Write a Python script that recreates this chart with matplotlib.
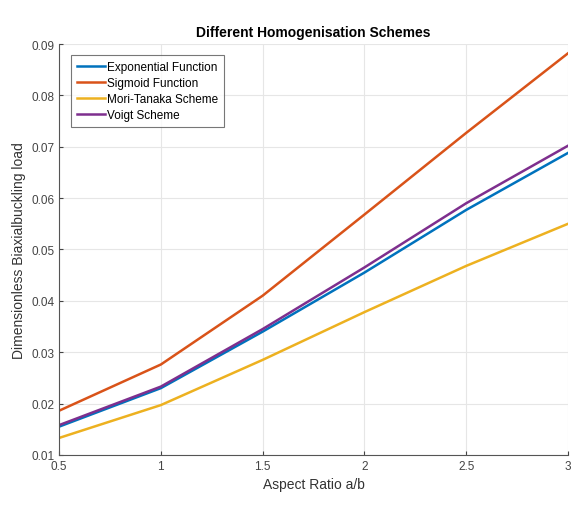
import matplotlib
matplotlib.use("Agg")
import matplotlib.pyplot as plt

plt.rcParams["font.family"] = ["Liberation Sans", "DejaVu Sans"]

aspect_ratio = [0.5, 1.0, 1.5, 2.0, 2.5, 3.0]
exponential = [0.0155, 0.0230, 0.0340, 0.0455, 0.0577, 0.0688]
sigmoid = [0.0186, 0.0276, 0.0410, 0.0568, 0.0727, 0.0882]
mori_tanaka = [0.0133, 0.0197, 0.0285, 0.0378, 0.0468, 0.0550]
voigt = [0.0158, 0.0233, 0.0345, 0.0465, 0.0590, 0.0702]

labels = ["Exponential Function", "Sigmoid Function", "Mori-Tanaka Scheme", "Voigt Scheme"]
colors = ["#0072BD", "#D95319", "#EDB120", "#7E2F8E"]

fig = plt.figure(figsize=(5.79, 5.06), dpi=100)
ax = fig.add_axes([0.102, 0.099, 0.879, 0.812])
for ys, lab, c in zip([exponential, sigmoid, mori_tanaka, voigt], labels, colors):
    ax.plot(aspect_ratio, ys, color=c, lw=1.8, label=lab)

ax.set_xlim(0.5, 3)
ax.set_ylim(0.01, 0.09)
ax.set_xticks([0.5, 1, 1.5, 2, 2.5, 3])
ax.set_xticklabels(["0.5", "1", "1.5", "2", "2.5", "3"])
ax.set_yticks([0.01, 0.02, 0.03, 0.04, 0.05, 0.06, 0.07, 0.08, 0.09])
ax.set_yticklabels(["0.01", "0.02", "0.03", "0.04", "0.05", "0.06", "0.07", "0.08", "0.09"])
ax.grid(True, color="#e6e6e6", lw=0.8)
ax.set_axisbelow(True)
for s in ["top", "right"]:
    ax.spines[s].set_visible(False)
for s in ["left", "bottom"]:
    ax.spines[s].set_color("#555555")
ax.tick_params(direction="in", labelsize=8.5, colors="#444444", length=3)
ax.set_xlabel("Aspect Ratio a/b", fontsize=10, color="#333333")
ax.set_ylabel("Dimensionless Biaxialbuckling load", fontsize=10, color="#333333")
ax.set_title("Different Homogenisation Schemes", fontsize=10, fontweight="bold")
leg = ax.legend(loc="upper left", bbox_to_anchor=(0.023, 0.973), borderaxespad=0,
                fontsize=8.5, frameon=True, fancybox=False,
                edgecolor="#555555", handlelength=2.4, borderpad=0.5,
                labelspacing=0.35, handletextpad=0.15)
leg.get_frame().set_linewidth(0.8)
fig.savefig("out.png", dpi=100)
